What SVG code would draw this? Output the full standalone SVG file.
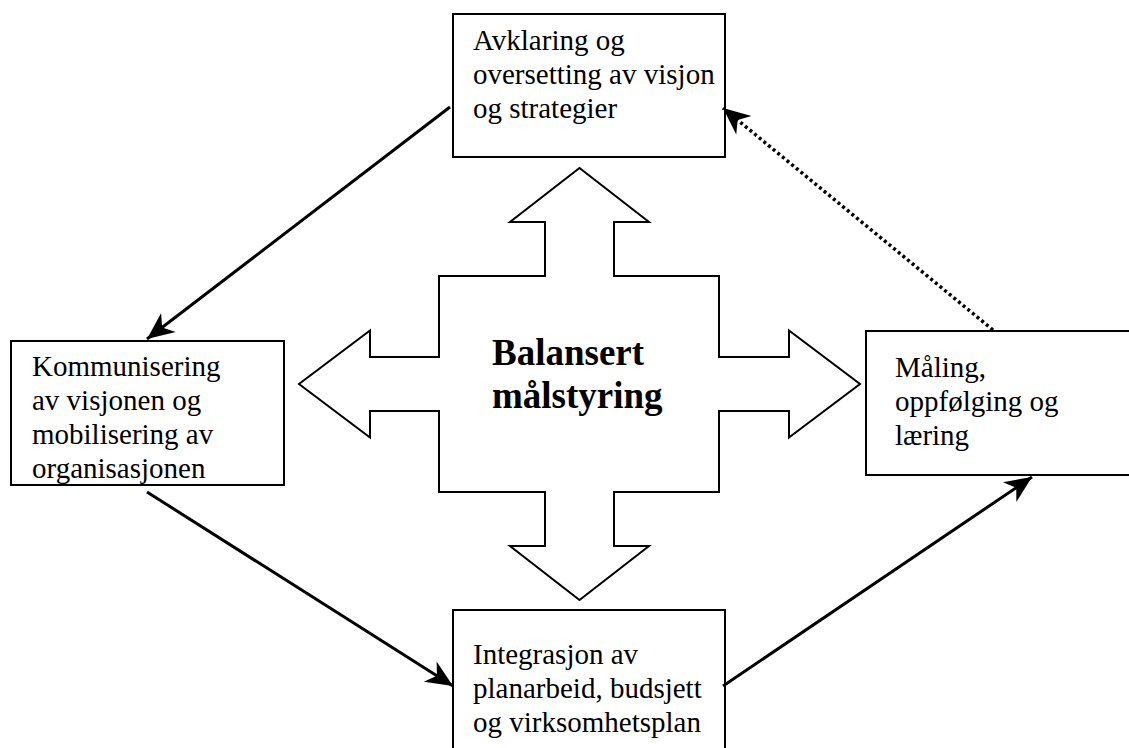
<svg xmlns="http://www.w3.org/2000/svg" width="1129" height="748" viewBox="0 0 1129 748">
<style>
.box{fill:#fff;stroke:#000;stroke-width:2}
.t{font-family:"Liberation Serif","Times New Roman",serif;font-size:29px;fill:#000}
.tb{font-family:"Liberation Serif","Times New Roman",serif;font-size:37px;font-weight:bold;fill:#000}
.conn{fill:none;stroke:#000;stroke-width:3}
.dot{stroke-width:3.5;stroke-dasharray:3 3}
</style>
<defs>
<marker id="ah" markerUnits="userSpaceOnUse" markerWidth="32" markerHeight="28" viewBox="-29 -14 32 28" refX="0" refY="0" orient="auto">
<path d="M0,0 L-27,-12 L-19,0 L-27,12 Z" fill="#000"/>
</marker>
</defs>
<rect width="1129" height="748" fill="#fff"/>
<g id="center">
<polygon points="579.5,168 649,222 614,222 614,276 719,276 719,357 789,357 789,330.5 860,384 789,437.5 789,411 719,411 719,492 614,492 614,546 649,546 579.5,600 510,546 545,546 545,492 439,492 439,411 370,411 370,437.5 299,384 370,330.5 370,357 439,357 439,276 545,276 545,222 510,222" fill="#fff" stroke="#000" stroke-width="2"/>
<text class="tb" x="492" y="365">Balansert</text>
<text class="tb" x="492" y="408">målstyring</text>
</g>
<g id="node-top">
<rect class="box" x="453" y="14" width="272" height="143"/>
<text class="t" x="473" y="50">Avklaring og</text>
<text class="t" x="473" y="84">oversetting av visjon</text>
<text class="t" x="473" y="118">og strategier</text>
</g>
<g id="node-left">
<rect class="box" x="11" y="341" width="273" height="144"/>
<text class="t" x="32" y="376">Kommunisering</text>
<text class="t" x="32" y="410">av visjonen og</text>
<text class="t" x="32" y="444">mobilisering av</text>
<text class="t" x="32" y="478">organisasjonen</text>
</g>
<g id="node-right">
<rect class="box" x="866" y="331" width="280" height="144"/>
<text class="t" x="895" y="377">Måling,</text>
<text class="t" x="895" y="411">oppfølging og</text>
<text class="t" x="895" y="445">læring</text>
</g>
<g id="node-bottom">
<rect class="box" x="453" y="610" width="272" height="150"/>
<text class="t" x="473" y="664">Integrasjon av</text>
<text class="t" x="473" y="698">planarbeid, budsjett</text>
<text class="t" x="473" y="732">og virksomhetsplan</text>
</g>
<g id="connectors">
<line class="conn" x1="450" y1="107" x2="147" y2="339" marker-end="url(#ah)"/>
<line class="conn" x1="147" y1="492" x2="453" y2="686" marker-end="url(#ah)"/>
<line class="conn" x1="723" y1="686" x2="1032" y2="477" marker-end="url(#ah)"/>
<line class="conn dot" x1="993" y1="330" x2="723" y2="108" marker-end="url(#ah)"/>
</g>
</svg>
